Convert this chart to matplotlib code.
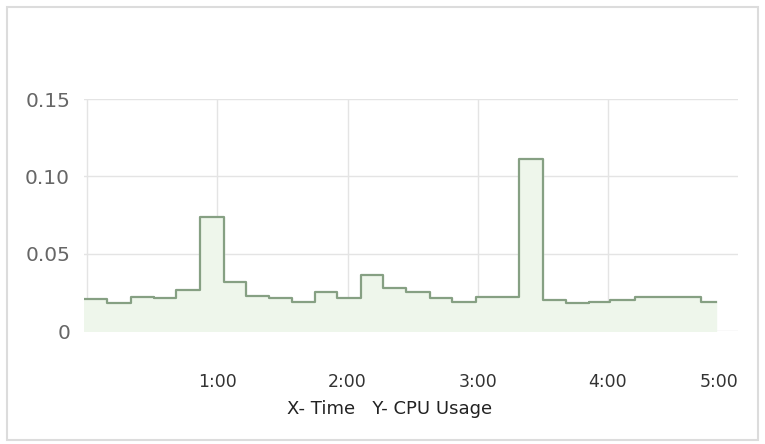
import matplotlib.pyplot as plt
from matplotlib.patches import Rectangle

# step start times (minutes) and CPU usage
minutes = [-1.5, 9, 20, 31, 41, 52, 63, 73, 84, 94.5, 105, 115, 126, 136.5,
           147, 158, 168, 179, 199, 210, 220.5, 231.5, 241, 252.5, 283, 290]
cpu = [0.0206, 0.018, 0.0223, 0.0215, 0.0266, 0.0736, 0.0316, 0.0229, 0.0212,
       0.019, 0.0251, 0.0212, 0.0364, 0.0281, 0.0255, 0.0212, 0.019, 0.0223,
       0.111, 0.0201, 0.018, 0.019, 0.020, 0.0223, 0.019, 0.019]
xticks = [60, 120, 180, 240, 300]
xticklabels = ["1:00", "2:00", "3:00", "4:00", "5:00"]
yticks = [0, 0.05, 0.10, 0.15]
yticklabels = ["0", "0.05", "0.10", "0.15"]

fig = plt.figure(figsize=(7.65, 4.44), dpi=100)
ax = fig.add_axes([84 / 765, 1 - 331 / 444, (738 - 84) / 765, (331 - 99) / 444])

line_col = "#86a083"
ax.fill_between(minutes, cpu, step="post", color="#eef6eb", zorder=1)
ax.step(minutes, cpu, where="post", color=line_col, lw=1.6, zorder=3)

ax.set_xlim(-1.5, 300)
ax.set_ylim(0, 0.15)
ax.set_xticks(xticks)
ax.set_xticklabels(xticklabels)
ax.set_yticks(yticks)
ax.set_yticklabels(yticklabels)
ax.get_xticklabels()[-1].set_horizontalalignment("right")

ax.grid(True, color="#e4e4e4", lw=1)
ax.xaxis.get_gridlines()[-1].set_visible(False)
ax.set_axisbelow(True)
for s in ax.spines.values():
    s.set_visible(False)
ax.tick_params(axis="y", length=0, pad=10, labelsize=14.5, labelcolor="#666666")
ax.tick_params(axis="x", length=0, pad=30, labelsize=12.5, labelcolor="#333333")
ax.axvline(0, color="#e4e4e4", lw=1, zorder=0)

fig.text(390 / 765, 1 - 409 / 444, "X- Time   Y- CPU Usage", ha="center", va="center",
         fontsize=13, color="#222222")

fig.patches.append(Rectangle((7 / 765, 4 / 444), 751 / 765, 433 / 444,
                             transform=fig.transFigure, fill=False,
                             edgecolor="#dcdcdc", lw=1.5))

fig.savefig("out.png", dpi=100)
